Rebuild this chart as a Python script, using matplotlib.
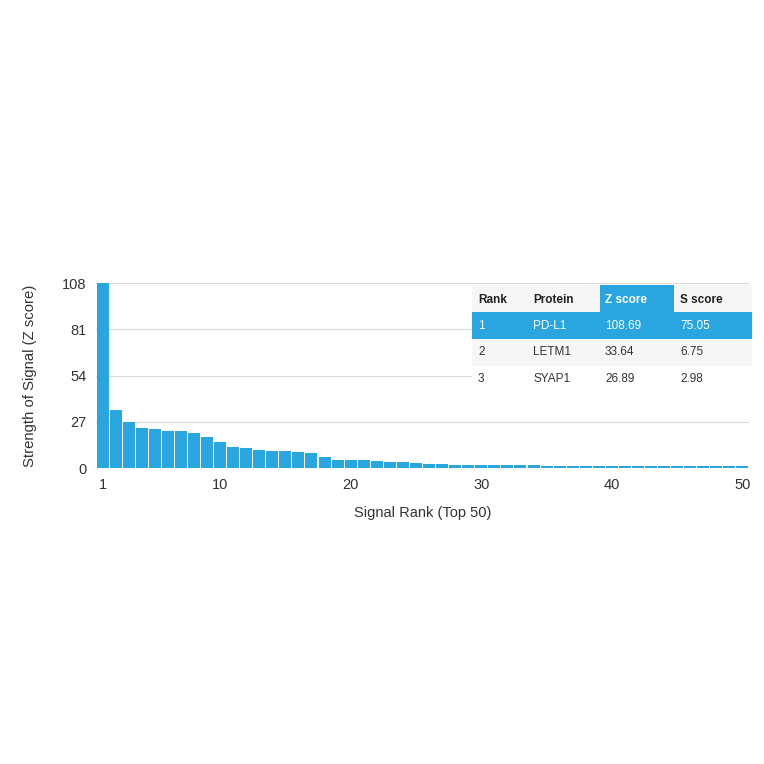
import matplotlib
matplotlib.use("Agg")
import matplotlib.pyplot as plt
from matplotlib.patches import Rectangle

# Z scores of the top 50 signals (first three from the table, rest)
ranks = list(range(1, 51))
z_scores = [108.69, 33.64, 26.89, 23.6, 22.7, 21.6, 21.4, 20.4, 18.3, 15.3,
            12.0, 11.6, 10.3, 10.1, 10.1, 9.6, 8.8, 6.5, 4.9, 4.9,
            4.7, 4.2, 3.4, 3.3, 2.9, 2.5, 2.1, 2.0, 2.0, 1.9,
            1.8, 1.7, 1.6, 1.5, 1.4, 1.35, 1.3, 1.25, 1.2, 1.15,
            1.1, 1.1, 1.05, 1.05, 1.0, 1.0, 1.0, 0.95, 0.95, 0.95]
y_ticks = [0, 27, 54, 81, 108]
x_ticks = [1, 10, 20, 30, 40, 50]

table_header = ["Rank", "Protein", "Z score", "S score"]
table_rank = ["1", "2", "3"]
table_protein = ["PD-L1", "LETM1", "SYAP1"]
table_z = ["108.69", "33.64", "26.89"]
table_s = ["75.05", "6.75", "2.98"]

BLUE = "#29a6df"
TEXT = "#333333"

plt.rcParams["font.family"] = ["Liberation Sans", "DejaVu Sans"]

W = 764
fig = plt.figure(figsize=(7.64, 7.64), dpi=100)
fig.patch.set_facecolor("white")

ax = fig.add_axes([96 / W, 1 - 468 / W, (749 - 96) / W, (468 - 283.3) / W])
ax.bar(ranks, z_scores, width=0.92, color=BLUE, edgecolor="none", zorder=2)
ax.set_xlim(0.5, 50.5)
ax.set_ylim(0, 108)
ax.set_yticks(y_ticks)
ax.set_xticks(x_ticks)
ax.tick_params(length=0, labelsize=10.5, colors=TEXT)
ax.tick_params(axis="x", pad=7)
ax.tick_params(axis="y", pad=7)
for t in y_ticks[1:]:
    ax.axhline(t, color="#dadada", linewidth=0.8, zorder=1)
for s in ax.spines.values():
    s.set_visible(False)
ax.set_ylabel("Strength of Signal (Z score)", fontsize=10.7, color=TEXT, labelpad=18)
ax.set_xlabel("Signal Rank (Top 50)", fontsize=10.5, color=TEXT, labelpad=10)

# table overlay in pixel coordinates
ov = fig.add_axes([0, 0, 1, 1], zorder=5)
ov.set_xlim(0, W)
ov.set_ylim(W, 0)
ov.axis("off")
ov.patch.set_alpha(0)

tx0, tx1 = 472, 752
row_edges = [285, 312.3, 339, 365.7, 392]
col_x = [478, 533, 605, 680]
row_bg = ["#f6f6f6", BLUE, "#f6f6f6", "white"]
for i, bg in enumerate(row_bg):
    ov.add_patch(Rectangle((tx0, row_edges[i]), tx1 - tx0, row_edges[i + 1] - row_edges[i],
                           facecolor=bg, edgecolor="none"))
# highlighted Z score header
ov.add_patch(Rectangle((600, row_edges[0]), 74, row_edges[1] - row_edges[0],
                       facecolor=BLUE, edgecolor="none"))

for j, h in enumerate(table_header):
    ov.text(col_x[j], (row_edges[0] + row_edges[1]) / 2 + 1, h, fontsize=8.5, fontweight="bold",
            color="white" if h == "Z score" else "#222222", va="center", ha="left")

columns = [table_rank, table_protein, table_z, table_s]
for i in range(3):
    yc = (row_edges[i + 1] + row_edges[i + 2]) / 2
    for j, col in enumerate(columns):
        ov.text(col_x[j], yc, col[i], fontsize=8.5, va="center", ha="left",
                color="white" if i == 0 else TEXT)

fig.savefig("out.png", dpi=100, facecolor="white")
